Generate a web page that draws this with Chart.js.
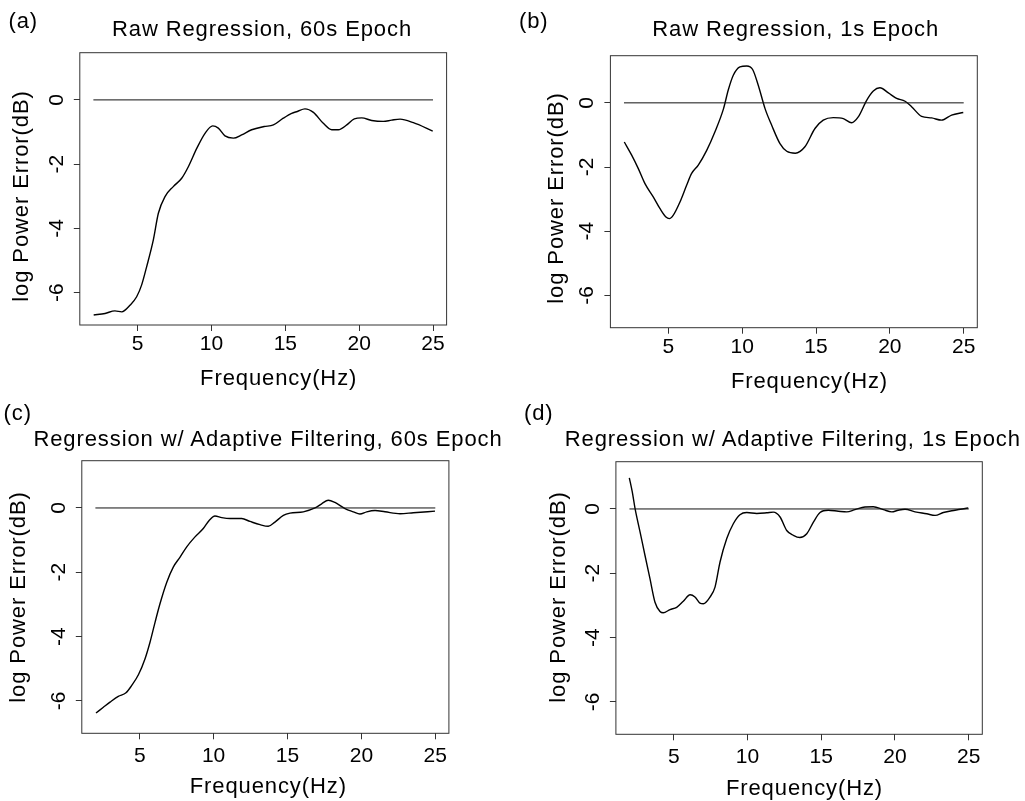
<!DOCTYPE html>
<html>
<head>
<meta charset="utf-8">
<script src="https://cdn.jsdelivr.net/npm/chart.js@4.4.1/dist/chart.umd.min.js"></script>
<style>
html,body{margin:0;padding:0;background:#fff;}
body{width:1025px;height:801px;position:relative;overflow:hidden;font-family:"Liberation Sans",Arial,Helvetica,sans-serif;color:#000;}
canvas{position:absolute;left:0;top:0;}
.t{position:absolute;font-size:22px;line-height:22px;letter-spacing:0.9px;white-space:nowrap;}
.c{transform:translateX(-50%);}
.r{transform:translate(-50%,-50%) rotate(-90deg);}
</style>
</head>
<body>
<canvas id="ca" width="1025" height="801"></canvas>
<canvas id="cb" width="1025" height="801"></canvas>
<canvas id="cc" width="1025" height="801"></canvas>
<canvas id="cd" width="1025" height="801"></canvas>

<div class="t" style="left:8.5px;top:10.1px;">(a)</div>
<div class="t" style="left:519px;top:10.1px;">(b)</div>
<div class="t" style="left:3.5px;top:401.8px;">(c)</div>
<div class="t" style="left:524px;top:401.8px;">(d)</div>

<div class="t c" style="left:262px;top:17.7px;">Raw Regression, 60s Epoch</div>
<div class="t c" style="left:795.7px;top:17.7px;">Raw Regression, 1s Epoch</div>
<div class="t c" style="left:268px;top:428.1px;">Regression w/ Adaptive Filtering, 60s Epoch</div>
<div class="t c" style="left:792.8px;top:428.1px;">Regression w/ Adaptive Filtering, 1s Epoch</div>

<div class="t c" style="left:278.7px;top:366.7px;">Frequency(Hz)</div>
<div class="t c" style="left:809.5px;top:369.7px;">Frequency(Hz)</div>
<div class="t c" style="left:268.3px;top:775.4px;">Frequency(Hz)</div>
<div class="t c" style="left:804.5px;top:777.1px;">Frequency(Hz)</div>

<div class="t r" style="left:20.9px;top:196.2px;">log Power Error(dB)</div>
<div class="t r" style="left:556.2px;top:197.5px;">log Power Error(dB)</div>
<div class="t r" style="left:18.2px;top:596.7px;">log Power Error(dB)</div>
<div class="t r" style="left:557.5px;top:596.7px;">log Power Error(dB)</div>

<script>
// ---- Data ----
const xTicks = [5, 10, 15, 20, 25];
const yTicks = [-6, -4, -2, 0];
const zeroFreq = [2, 25];
const zeroVal = [0, 0];

// (a) Raw Regression, 60s Epoch
const freqA = [2.02,2.79,3.46,3.92,4.49,4.93,5.27,5.61,6.06,6.40,6.85,7.41,7.98,8.43,9.00,9.56,10.08,10.46,10.91,11.48,12.04,12.72,13.56,14.19,14.86,15.43,15.81,16.33,16.90,17.57,18.14,18.59,19.16,19.67,20.17,20.85,21.63,22.20,22.77,23.67,24.98];
const errA = [-6.70,-6.65,-6.57,-6.60,-6.39,-6.13,-5.76,-5.19,-4.36,-3.53,-3.01,-2.70,-2.44,-2.08,-1.51,-1.04,-0.81,-0.88,-1.12,-1.19,-1.09,-0.93,-0.83,-0.78,-0.57,-0.42,-0.36,-0.28,-0.39,-0.73,-0.93,-0.93,-0.78,-0.59,-0.56,-0.64,-0.67,-0.63,-0.60,-0.71,-0.97];

// (b) Raw Regression, 1s Epoch
const freqB = [2.02,2.52,2.97,3.42,3.98,4.44,4.84,5.07,5.34,5.79,6.24,6.58,7.03,7.60,8.16,8.74,9.06,9.40,9.85,10.31,10.71,11.09,11.55,12.00,12.56,13.02,13.60,14.25,14.93,15.49,16.17,16.85,17.41,17.86,18.43,18.88,19.33,19.90,20.46,21.03,21.47,22.15,22.83,23.50,24.18,24.97];
const errB = [-1.22,-1.63,-2.05,-2.52,-2.93,-3.30,-3.56,-3.61,-3.50,-3.09,-2.57,-2.20,-1.94,-1.48,-0.90,-0.18,0.40,0.86,1.12,1.15,1.04,0.55,-0.18,-0.70,-1.27,-1.51,-1.57,-1.37,-0.80,-0.54,-0.46,-0.49,-0.62,-0.44,0.08,0.37,0.47,0.31,0.14,0.05,-0.12,-0.42,-0.47,-0.54,-0.38,-0.30];

// (c) Regression w/ Adaptive Filtering, 60s Epoch
const freqC = [2.04,2.54,2.99,3.55,4.07,4.46,4.91,5.36,5.70,6.04,6.37,6.83,7.27,7.73,8.18,8.74,9.30,9.71,10.09,10.55,11.11,11.90,12.46,13.14,13.70,14.15,14.72,15.17,16.07,16.86,17.31,17.76,18.21,18.89,19.45,19.90,20.36,20.92,21.60,22.61,23.51,24.98];
const errC = [-6.38,-6.20,-6.04,-5.86,-5.75,-5.52,-5.19,-4.69,-4.17,-3.55,-2.98,-2.31,-1.84,-1.53,-1.21,-0.90,-0.64,-0.38,-0.25,-0.30,-0.33,-0.33,-0.42,-0.52,-0.57,-0.44,-0.23,-0.16,-0.12,0.00,0.13,0.24,0.17,-0.02,-0.12,-0.19,-0.12,-0.08,-0.12,-0.18,-0.15,-0.10];

// (d) Regression w/ Adaptive Filtering, 1s Epoch
const freqD = [1.99,2.19,2.38,2.72,3.05,3.39,3.73,4.07,4.29,4.75,5.20,5.65,6.11,6.44,6.78,7.01,7.46,7.80,8.14,8.59,9.04,9.49,9.95,10.63,11.31,11.75,12.21,12.66,13.11,13.55,14.02,14.47,14.92,15.48,16.16,16.73,17.29,17.97,18.53,19.21,19.78,20.22,20.68,21.36,22.15,22.72,23.28,24.07,24.97];
const errD = [0.97,0.53,0.01,-0.72,-1.44,-2.17,-2.90,-3.19,-3.23,-3.13,-3.06,-2.87,-2.67,-2.74,-2.93,-2.95,-2.74,-2.43,-1.65,-0.93,-0.46,-0.18,-0.11,-0.14,-0.12,-0.10,-0.25,-0.67,-0.82,-0.89,-0.77,-0.41,-0.11,-0.04,-0.07,-0.09,-0.02,0.06,0.07,-0.02,-0.09,-0.04,-0.01,-0.09,-0.15,-0.20,-0.11,-0.04,0.03];

// ---- Layout / style ----
const W = 1025, H = 801;
const X_MIN = 1.08, X_MAX = 25.92, Y_MIN = -7.01, Y_MAX = 1.47;
const Y_AXIS_W = 60, X_AXIS_H = 60;
const FONT = '"Liberation Sans", Arial, Helvetica, sans-serif';

const boxPlugin = {
  id: 'box',
  afterDraw(chart) {
    const a = chart.chartArea, ctx = chart.ctx;
    ctx.save();
    ctx.strokeStyle = '#333';
    ctx.lineWidth = 1;
    ctx.strokeRect(a.left, a.top, a.right - a.left, a.bottom - a.top);
    ctx.restore();
  }
};

function pts(xs, ys) { return xs.map((x, i) => ({ x: x, y: ys[i] })); }

function makePanel(id, freq, vals, box, xPad, yPad) {
  new Chart(document.getElementById(id), {
    type: 'line',
    data: {
      datasets: [
        { data: pts(zeroFreq, zeroVal), borderColor: '#111', borderWidth: 1, pointRadius: 0, tension: 0 },
        { data: pts(freq, vals), borderColor: '#000', borderWidth: 1.4, pointRadius: 0, cubicInterpolationMode: 'monotone' }
      ]
    },
    options: {
      responsive: false, animation: false, events: [],
      layout: { padding: { left: box.left - Y_AXIS_W, right: W - box.right, top: box.top, bottom: H - box.bottom - X_AXIS_H } },
      plugins: { legend: { display: false }, tooltip: { enabled: false }, title: { display: false } },
      scales: {
        x: {
          type: 'linear', min: X_MIN, max: X_MAX,
          afterFit(s) { s.height = X_AXIS_H; },
          afterBuildTicks(s) { s.ticks = xTicks.map(v => ({ value: v })); },
          border: { display: false },
          grid: { drawOnChartArea: false, drawTicks: true, tickLength: 6, color: '#333', lineWidth: 1 },
          ticks: { autoSkip: false, maxRotation: 0, padding: xPad, color: '#000', font: { family: FONT, size: 21 } }
        },
        y: {
          type: 'linear', min: Y_MIN, max: Y_MAX,
          afterFit(s) { s.width = Y_AXIS_W; },
          afterBuildTicks(s) { s.ticks = yTicks.map(v => ({ value: v })); },
          border: { display: false },
          grid: { drawOnChartArea: false, drawTicks: true, tickLength: 6, color: '#333', lineWidth: 1 },
          ticks: { autoSkip: false, minRotation: 90, maxRotation: 90, crossAlign: 'center', padding: yPad, color: '#000', font: { family: FONT, size: 21 } }
        }
      }
    },
    plugins: [boxPlugin]
  });
}

makePanel('ca', freqA, errA, { left: 79.8, right: 446.6, top: 52.7, bottom: 325.0 }, 1, 7.5);
makePanel('cb', freqB, errB, { left: 610.4, right: 977.3, top: 55.7, bottom: 327.7 }, 1, 7.5);
makePanel('cc', freqC, errC, { left: 81.8, right: 448.9, top: 460.7, bottom: 733.3 }, 4, 7.5);
makePanel('cd', freqD, errD, { left: 615.9, right: 982.3, top: 461.7, bottom: 734.3 }, 4, 7.5);
</script>
</body>
</html>
